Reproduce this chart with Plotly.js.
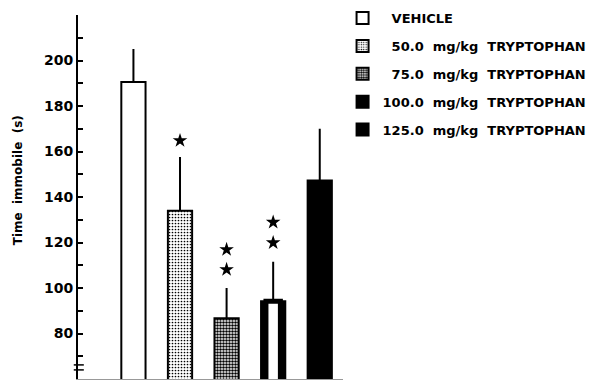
<!DOCTYPE html>
<html>
<head>
<meta charset="utf-8">
<script src="https://cdn.plot.ly/plotly-3.0.1.min.js"></script>
<style>body{margin:0;background:#fff}#chart{width:601px;height:381px}</style>
</head>
<body>
<div id="chart"></div>
<script>
// ---- data ----
const groupNames = ['VEHICLE', '50.0  mg/kg  TRYPTOPHAN', '75.0  mg/kg  TRYPTOPHAN', '100.0  mg/kg  TRYPTOPHAN', '125.0  mg/kg  TRYPTOPHAN'];
const groupPos = [0, 1, 2, 3, 4];
const meanTime = [190.5, 134.0, 86.7, 94.2, 147.3];
const semTime = [14.6, 23.6, 13.3, 17.3, 22.7];
const starPos = [1, 2, 2, 3, 3];
const starTime = [164.8, 116.9, 108.1, 128.9, 119.9];
const tickValues = [70, 80, 90, 100, 110, 120, 130, 140, 150, 160, 170, 180, 190, 200, 210, 220];
const tickLabels = ['', '80', '', '100', '', '120', '', '140', '', '160', '', '180', '', '200', '', ''];
const axisBreak = [64.0, 66.2];

const FONT = 'DejaVu Sans, Arial, sans-serif';
const nb = s => s.replace(/ /g, '\u00A0');

const styles = [
  {color: '#ffffff'},
  {color: '#ffffff', pattern: {shape: '.', fgcolor: '#000', bgcolor: '#fff', size: 3, solidity: 0.25}},
  {color: '#ffffff', pattern: {shape: '.', fgcolor: '#000', bgcolor: '#fff', size: 3, solidity: 0.55}},
  {color: '#000000'},
  {color: '#000000'}
];

const traces = [];
for (let i = 0; i < groupNames.length; i++) {
  const m = Object.assign({line: {color: '#000', width: 2}}, styles[i]);
  traces.push({
    type: 'bar',
    x: [groupPos[i]],
    y: [meanTime[i]],
    width: 0.52,
    name: nb((i < 3 ? '\u2007' : '') + groupNames[i]),
    legendgroup: 'g' + i,
    marker: m,
    error_y: {type: 'data', symmetric: false, array: [semTime[i]], arrayminus: [0], width: 0, thickness: 2, color: '#000'},
    hoverinfo: 'skip'
  });
}
// white centre stripe of the 100.0 mg/kg bar
traces.push({
  type: 'bar',
  x: [groupPos[3]],
  y: [meanTime[3]],
  width: 0.31,
  showlegend: false,
  marker: {color: '#fff', line: {color: '#000', width: 5}},
  hoverinfo: 'skip'
});
// significance stars
traces.push({
  type: 'scatter',
  mode: 'markers',
  x: starPos,
  y: starTime,
  showlegend: false,
  marker: {symbol: 'star', size: 11, color: '#000', line: {width: 0}},
  hoverinfo: 'skip'
});

const shapes = axisBreak.map(v => ({
  type: 'line', xref: 'paper', yref: 'y',
  x0: -0.016, x1: 0.022, y0: v, y1: v,
  line: {color: '#000', width: 1.5}
}));

const layout = {
  width: 601, height: 381,
  margin: {l: 78, r: 256, t: 15, b: 2, pad: 0},
  paper_bgcolor: '#fff', plot_bgcolor: '#fff',
  barmode: 'overlay',
  showlegend: true,
  font: {family: FONT, size: 13, color: '#000'},
  xaxis: {
    range: [-1.19, 4.49], showticklabels: false, ticks: '',
    showgrid: false, zeroline: false,
    showline: true, linecolor: '#999', linewidth: 1
  },
  yaxis: {
    range: [60, 220], tickmode: 'array', tickvals: tickValues, ticktext: tickLabels,
    ticks: 'inside', ticklen: 5, tickwidth: 2, tickcolor: '#000',
    showline: true, linecolor: '#000', linewidth: 2,
    showgrid: false, zeroline: false,
    tickfont: {family: FONT, size: 14, weight: 'bold', color: '#000'}
  },
  legend: {
    xref: 'container', yref: 'container',
    x: 0.570, xanchor: 'left', y: 0.992, yanchor: 'top',
    traceorder: 'grouped', tracegroupgap: 8,
    font: {family: FONT, size: 13, weight: 'bold', color: '#000'},
    bgcolor: 'rgba(0,0,0,0)'
  },
  annotations: [{
    text: nb('Time  immobile  (s)'), xref: 'paper', yref: 'paper',
    x: -0.228, y: 0.545, xanchor: 'center', yanchor: 'middle',
    textangle: -90, showarrow: false,
    font: {family: FONT, size: 12, weight: 'bold', color: '#000'}
  }],
  shapes: shapes
};

Plotly.newPlot('chart', traces, layout, {displayModeBar: false, staticPlot: true});
</script>
</body>
</html>
